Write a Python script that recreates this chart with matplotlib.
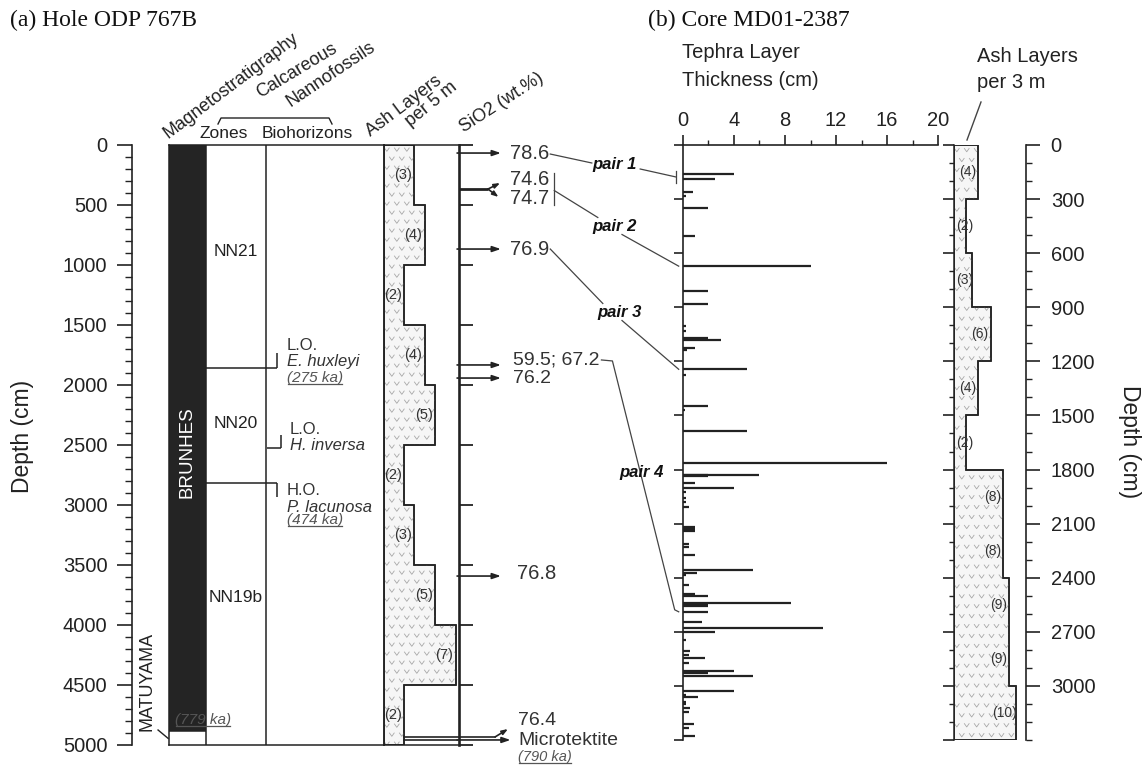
import numpy as np
import matplotlib
matplotlib.use('Agg')
import matplotlib.pyplot as plt
from matplotlib.path import Path
from matplotlib.patches import Polygon
from matplotlib.ticker import MultipleLocator

plt.rcParams['font.family'] = ['Liberation Sans', 'DejaVu Sans']

W, H, DPI = 1145, 766, 100
INK = '#222222'
GREY = '#555555'

# ---------------- data: (a) Hole ODP 767B ----------------
odp_ash_edges = [0, 500, 1000, 1500, 2000, 2500, 3000, 3500, 4000, 4500, 5000]
odp_ash_counts = [3, 4, 2, 4, 5, 2, 3, 5, 7, 2]
brunhes_base_depth = 4885
brunhes_base_age = '(779 ka)'
zone_names = ['NN21', 'NN20', 'NN19b']
zone_label_depths = [890, 2320, 3770]
bio_depths = [1858, 2525, 2817]
bio_events = ['L.O.', 'L.O.', 'H.O.']
bio_species = ['E. huxleyi', 'H. inversa', 'P. lacunosa']
bio_ages = ['(275 ka)', '', '(474 ka)']
sio2_depths = [67, 367, 367, 867, 1833, 1942, 3592, 4933]
sio2_values = ['78.6', '74.6', '74.7', '76.9', '59.5; 67.2', '76.2', '76.8', '76.4']
microtektite_depth = 4958
microtektite_age = '(790 ka)'

# ---------------- data: (b) Core MD01-2387 ----------------
tephra_depths = [163, 191, 259, 281, 352, 506, 672, 809, 880, 1004, 1033, 1069, 1083,
                 1124, 1135, 1244, 1274, 1450, 1469, 1587, 1763, 1828, 1833, 1838, 1876,
                 1900, 1926, 1957, 1978, 2006, 2117, 2128, 2139, 2213, 2231, 2274, 2357,
                 2374, 2383, 2439, 2491, 2504, 2541, 2550, 2559, 2589, 2644, 2680, 2700,
                 2744, 2809, 2828, 2846, 2874, 2920, 2926, 2946, 3028, 3050, 3061, 3087,
                 3102, 3120, 3144, 3213, 3231, 3278]
tephra_thickness = [4.0, 2.5, 0.8, 0.25, 2.0, 1.0, 10.0, 2.0, 2.0, 0.25, 0.25, 2.0, 3.0,
                    1.0, 0.3, 5.0, 0.25, 2.0, 0.2, 5.0, 16.0, 6.0, 2.0, 2.0, 1.0,
                    4.0, 0.25, 0.25, 0.25, 0.5, 1.0, 1.0, 1.0, 0.5, 0.5, 1.0, 5.5,
                    1.15, 0.25, 0.5, 1.0, 2.0, 8.5, 2.0, 2.0, 2.0, 1.5, 11.0, 2.5,
                    0.25, 0.6, 0.5, 1.75, 0.5, 4.0, 2.0, 5.5, 4.0, 0.25, 1.2, 0.25,
                    0.25, 0.6, 0.5, 0.9, 0.5, 1.0]
md_ash_edges = [0, 300, 600, 900, 1200, 1500, 1800, 2100, 2400, 2700, 3000, 3300]
md_ash_counts = [4, 2, 3, 6, 4, 2, 8, 8, 9, 9, 10]
pair_names = ['pair 1', 'pair 2', 'pair 3', 'pair 4']
pair_tephra_depths = [177, 672, 1244, 2589]

# ---------------- figure ----------------
fig = plt.figure(figsize=(W / DPI, H / DPI), dpi=DPI)


def add_ax(x0, x1, y0, y1, **kw):
    return fig.add_axes([x0 / W, 1 - y1 / H, (x1 - x0) / W, (y1 - y0) / H], **kw)


TOP, BOT_A, BOT_B = 145, 745, 740
LW = 1.1

V_PATH = Path([(-1, 0.7), (0, -0.7), (1, 0.7)], [Path.MOVETO, Path.LINETO, Path.LINETO])


def step_poly(edges, counts):
    verts = [(0, edges[0])]
    for i, c in enumerate(counts):
        verts.append((c, edges[i]))
        verts.append((c, edges[i + 1]))
    verts.append((0, edges[-1]))
    return verts


def ash_fill(ax, edges, counts, dx, dy):
    poly = Polygon(step_poly(edges, counts), closed=True, facecolor='#f6f6f6',
                   edgecolor=INK, lw=LW, zorder=2)
    ax.add_patch(poly)
    xs, ys = [], []
    for j, y in enumerate(np.arange(dy / 2, edges[-1], dy)):
        off = dx / 2 if j % 2 else 0
        for x in np.arange(dx / 3 + off, max(counts) + dx, dx):
            xs.append(x)
            ys.append(y)
    sc = ax.scatter(xs, ys, marker=V_PATH, s=14, facecolors='none',
                    edgecolors='#a8a8a8', linewidths=0.6, zorder=2.5)
    sc.set_clip_path(poly)
    outline = Polygon(step_poly(edges, counts), closed=True, fill=False,
                      edgecolor=INK, lw=LW, zorder=3)
    ax.add_patch(outline)


# ---- depth axis (a) ----
ax_dep = add_ax(131.7, 169, TOP, BOT_A)
ax_dep.set_ylim(5000, 0)
ax_dep.patch.set_visible(False)
for s in ['top', 'right', 'bottom']:
    ax_dep.spines[s].set_visible(False)
ax_dep.spines['left'].set_linewidth(1.2)
ax_dep.spines['left'].set_color(INK)
ax_dep.set_xticks([])
ax_dep.yaxis.set_major_locator(MultipleLocator(500))
ax_dep.yaxis.set_minor_locator(MultipleLocator(100))
ax_dep.tick_params(axis='y', which='major', length=10.5, width=1.2, labelsize=14.5,
                   pad=7, color=INK, labelcolor=INK)
ax_dep.tick_params(axis='y', which='minor', length=4.8, width=1.0, color=INK)

# ---- columns (a) ----
ax_col = add_ax(169, 383.5, TOP, BOT_A)
ax_col.set_xlim(0, 1)
ax_col.set_ylim(5000, 0)
ax_col.set_xticks([])
ax_col.set_yticks([])
for s in ax_col.spines.values():
    s.set_linewidth(LW)
    s.set_color(INK)
MAG_R, ZONE_R = 0.172, 0.4535
ax_col.fill_betweenx([0, brunhes_base_depth], 0, MAG_R, color='#242424', lw=0)
ax_col.hlines(brunhes_base_depth, 0, MAG_R, color=INK, lw=LW)
ax_col.axvline(MAG_R, color=INK, lw=LW)
ax_col.axvline(ZONE_R, color=INK, lw=LW)
ax_col.text(MAG_R / 2, 2560, 'BRUNHES', rotation=90, color='white', ha='center',
            va='center', fontsize=13.5)
ax_col.text(-0.102, 4470, 'MATUYAMA', rotation=90, color=INK, ha='center',
            va='center', fontsize=13, clip_on=False)
ax_col.plot([-0.051, -0.004], [4875, 4945], color=INK, lw=1.0, clip_on=False)
t_779 = ax_col.text(0.028, 4792, brunhes_base_age, color=GREY, ha='left', va='center',
                    fontsize=11, style='italic')

for name, d in zip(zone_names, zone_label_depths):
    ax_col.text((MAG_R + ZONE_R) / 2, d, name, ha='center', va='center', fontsize=12.5,
                color=INK)

# biohorizon markers
bio_marker = [(MAG_R, 0.502, -125), (0.456, 0.521, -108), (MAG_R, 0.502, 116)]
bio_text_x = [0.549, 0.563, 0.549]
bio_text_off = [(-191, -50, 84), (-158, -25, None), (66, 200, 308)]
underlined = [t_779]
for d, ev, sp, age, (xa, xb, v), tx, offs in zip(bio_depths, bio_events, bio_species,
                                                  bio_ages, bio_marker, bio_text_x,
                                                  bio_text_off):
    ax_col.hlines(d, xa, xb, color=INK, lw=LW)
    ax_col.vlines(xb, d, d + v, color=INK, lw=LW)
    ax_col.text(tx, d + offs[0], ev, ha='left', va='center', fontsize=12, color='#333')
    ax_col.text(tx, d + offs[1], sp, ha='left', va='center', fontsize=12, color='#333',
                style='italic')
    if age:
        underlined.append(ax_col.text(tx, d + offs[2], age, ha='left', va='center',
                                      fontsize=11, color=GREY, style='italic'))

# ---- ash layers per 5 m (a) ----
ax_ash = add_ax(383.5, 459, TOP, BOT_A)
ax_ash.set_xlim(0, 75.5 / 10.3)
ax_ash.set_ylim(5000, 0)
ax_ash.set_xticks([])
ax_ash.set_yticks([])
ax_ash.spines['right'].set_visible(False)
for s in ax_ash.spines.values():
    s.set_linewidth(LW)
    s.set_color(INK)
ash_fill(ax_ash, odp_ash_edges, odp_ash_counts, 0.97, 75)
for i, c in enumerate(odp_ash_counts):
    ax_ash.text(c - 1.1, (odp_ash_edges[i] + odp_ash_edges[i + 1]) / 2, f'({c})',
                ha='center', va='center', fontsize=10.5, color='#333', zorder=4)

# ---- SiO2 column (a) ----
ax_si = add_ax(459, 620, TOP, BOT_A, zorder=3)
ax_si.set_xlim(0, 1)
ax_si.set_ylim(5000, 0)
ax_si.patch.set_visible(False)
for s in ['top', 'right', 'bottom']:
    ax_si.spines[s].set_visible(False)
ax_si.spines['left'].set_linewidth(1.9)
ax_si.spines['left'].set_color(INK)
ax_si.set_xticks([])
ax_si.yaxis.set_major_locator(MultipleLocator(500))
ax_si.tick_params(axis='y', which='major', direction='in', length=10, width=1.3,
                  labelleft=False, color=INK)

AP = dict(arrowstyle='-|>,head_length=0.5,head_width=0.17', lw=1.2, color=INK,
          shrinkA=0, shrinkB=0)
AP_SMALL = dict(arrowstyle='-|>,head_length=0.35,head_width=0.13', lw=1.2, color=INK,
                shrinkA=0, shrinkB=0)


def arrow(x0, y0, x1, y1, props=AP):
    ax_si.annotate('', xy=(x1, y1), xytext=(x0, y0), arrowprops=props,
                   annotation_clip=False)


PX_SI = 5000 / 600.0  # cm per pixel in (a)
si_text = {}
label_x = [0.317, 0.317, 0.317, 0.317, 0.335, 0.335, 0.36, 0.366]
label_dy = [0, -10, 9, 0, -5, 0, -3, -16]
label_fs = [14.5, 14.5, 14.5, 14.5, 14, 14, 14.5, 14]
for i, (d, v) in enumerate(zip(sio2_depths, sio2_values)):
    if i == 1:
        ax_si.plot([-0.012, 0.18], [d, d], color=INK, lw=2.0, solid_capstyle='butt')
        arrow(0.18, d, 0.255, d - 50, AP_SMALL)
    elif i == 2:
        arrow(0.18, d, 0.245, d + 66, AP_SMALL)
    elif i == 7:
        ax_si.plot([-0.34, 0.224], [d, d], color=INK, lw=1.2, clip_on=False)
        arrow(0.224, d, 0.304, d - 66, AP_SMALL)
    else:
        arrow(-0.012, d, 0.26, d)
    si_text[i] = ax_si.text(label_x[i], d + label_dy[i] * PX_SI, v, ha='left',
                            va='center', fontsize=label_fs[i], color='#333',
                            clip_on=False)
ax_si.plot([-0.34, -0.012], [microtektite_depth] * 2, color=INK, lw=1.2, clip_on=False)
arrow(-0.012, microtektite_depth, 0.32, microtektite_depth)
ax_si.text(0.366, microtektite_depth + 1 * PX_SI, 'Microtektite', ha='left',
           va='center', fontsize=14, color='#333', clip_on=False)
underlined.append(ax_si.text(0.366, microtektite_depth + 17 * PX_SI, microtektite_age,
                             ha='left', va='center', fontsize=10.5, color=GREY,
                             style='italic', clip_on=False))

# ---- (b) tephra layer thickness ----
ax_t = add_ax(682.7, 938.3, TOP, BOT_B)
ax_t.set_xlim(0, 20)
ax_t.set_ylim(3300, 0)
ax_t.patch.set_visible(False)
for s in ['right', 'bottom']:
    ax_t.spines[s].set_visible(False)
for s in ['top', 'left']:
    ax_t.spines[s].set_linewidth(1.2)
    ax_t.spines[s].set_color(INK)
ax_t.xaxis.set_major_locator(MultipleLocator(4))
ax_t.xaxis.set_minor_locator(MultipleLocator(2))
ax_t.tick_params(axis='x', which='both', top=True, bottom=False, labeltop=True,
                 labelbottom=False, color=INK)
ax_t.tick_params(axis='x', which='major', length=7, width=1.2, labelsize=14.5, pad=4,
                 labelcolor=INK)
ax_t.tick_params(axis='x', which='minor', length=3.6, width=1.0)
ax_t.yaxis.set_major_locator(MultipleLocator(300))
ax_t.tick_params(axis='y', which='major', length=6.7, width=1.2, labelleft=False,
                 color=INK)
ax_t.hlines(tephra_depths, 0, tephra_thickness, color=INK, lw=1.6)

# ---- (b) ash layers per 3 m ----
ax_a2 = add_ax(953.5, 953.5 + 6.2 * 11, TOP, BOT_B)
ax_a2.set_xlim(0, 11)
ax_a2.set_ylim(3300, 0)
ax_a2.patch.set_visible(False)
for s in ['top', 'right', 'bottom']:
    ax_a2.spines[s].set_visible(False)
ax_a2.spines['left'].set_linewidth(LW)
ax_a2.spines['left'].set_color(INK)
ax_a2.set_xticks([])
ax_a2.yaxis.set_major_locator(MultipleLocator(300))
ax_a2.yaxis.set_minor_locator(MultipleLocator(100))
ax_a2.tick_params(axis='y', which='major', length=8, width=1.2, labelleft=False,
                  color=INK)
ax_a2.tick_params(axis='y', which='minor', length=3.6, width=1.0, color=INK)
ash_fill(ax_a2, md_ash_edges, md_ash_counts, 1.6, 55)
for i, c in enumerate(md_ash_counts):
    ax_a2.text(max(c - 1.7, 1.8), (md_ash_edges[i] + md_ash_edges[i + 1]) / 2, f'({c})',
               ha='center', va='center', fontsize=10, color='#333', zorder=4)

# ---- (b) depth axis ----
ax_d2 = add_ax(1020, 1026, TOP, BOT_B)
ax_d2.set_ylim(3300, 0)
ax_d2.patch.set_visible(False)
for s in ['top', 'left', 'bottom']:
    ax_d2.spines[s].set_visible(False)
ax_d2.spines['right'].set_linewidth(1.2)
ax_d2.spines['right'].set_color(INK)
ax_d2.set_xticks([])
ax_d2.yaxis.set_major_locator(MultipleLocator(300))
ax_d2.yaxis.set_minor_locator(MultipleLocator(100))
ax_d2.yaxis.tick_right()
ax_d2.tick_params(axis='y', which='major', length=9.8, width=1.2, labelsize=14.5,
                  pad=8, color=INK, labelcolor=INK, left=False, right=True,
                  labelleft=False, labelright=True)
ax_d2.tick_params(axis='y', which='minor', length=4.3, width=1.0, color=INK,
                  left=False, right=True)
ax_d2.set_yticks(range(0, 3001, 300))

# ---------------- overlay (figure pixels) ----------------
ov = fig.add_axes([0, 0, 1, 1], zorder=10)
ov.set_xlim(0, W)
ov.set_ylim(H, 0)
ov.axis('off')
ov.patch.set_visible(False)

ov.text(10, 20, '(a) Hole ODP 767B', family='Liberation Serif', fontsize=17,
        ha='left', va='center', color='#111')
ov.text(648, 20, '(b) Core MD01-2387', family='Liberation Serif', fontsize=17,
        ha='left', va='center', color='#111')
ov.text(22, 436, 'Depth (cm)', rotation=90, ha='center', va='center', fontsize=16.5,
        color=INK)
ov.text(1130, 442, 'Depth (cm)', rotation=270, ha='center', va='center', fontsize=16.5,
        color=INK)

headers = [('Magnetostratigraphy', 168, 139, 37), ('Calcareous', 260, 98, 31),
           ('Nannofossils', 290, 107, 34), ('Ash Layers', 371, 137, 37),
           ('per 5 m', 410, 127, 39), ('SiO2 (wt.%)', 464, 133, 33)]
for txt, x, y, rot in headers:
    ov.text(x, y, txt, rotation=rot, rotation_mode='anchor', ha='left', va='baseline',
            fontsize=13, color=INK)
ov.text(200, 133, 'Zones', ha='left', va='center', fontsize=12.5, color=INK)
ov.text(262, 133, 'Biohorizons', ha='left', va='center', fontsize=12.5, color=INK)
ov.plot([218, 221, 329, 332], [124, 118, 118, 124], color=INK, lw=1.0)

ov.text(682, 52, 'Tephra Layer', ha='left', va='center', fontsize=14.5, color=INK)
ov.text(682, 80, 'Thickness (cm)', ha='left', va='center', fontsize=14.5, color=INK)
ov.text(977, 57, 'Ash Layers', ha='left', va='center', fontsize=14.5, color=INK)
ov.text(977, 83, 'per 3 m', ha='left', va='center', fontsize=14.5, color=INK)
ov.plot([981, 967], [102, 140], color='#444', lw=1.0)

pair_pos = [(615, 165), (615, 226), (620, 312), (642, 473)]
pair_txt = [ov.text(x, y, n, ha='center', va='center', fontsize=12, weight='bold',
                    style='italic', color='#111', zorder=5)
            for n, (x, y) in zip(pair_names, pair_pos)]

fig.canvas.draw()
rend = fig.canvas.get_renderer()


def bbox(t):
    b = t.get_window_extent(rend)
    return b.x0, H - b.y1, b.x1, H - b.y0


def to_ov(ax, x, y):
    px, py = ax.transData.transform((x, y))
    return px, H - py


for t in underlined:
    x0, y0, x1, y1 = bbox(t)
    ov.plot([x0 + 1, x1 - 1], [y1 - 1, y1 - 1], color=GREY, lw=0.9)

CL = dict(color='#444', lw=0.9)
x_ax = to_ov(ax_t, 0, 0)[0]

# pair 1
l0 = bbox(si_text[0]); p = bbox(pair_txt[0])
yc = (l0[1] + l0[3]) / 2
pc = (p[1] + p[3]) / 2
ov.plot([l0[2] + 1, p[0] - 1], [yc + 1, pc - 2], **CL)
_, ye = to_ov(ax_t, 0, pair_tephra_depths[0])
ov.plot([p[2] + 3, x_ax - 7], [pc + 4, ye], **CL)
_, yb0 = to_ov(ax_t, 0, 144)
_, yb1 = to_ov(ax_t, 0, 211)
ov.plot([x_ax - 7, x_ax - 7], [yb0, yb1], **CL)

# pair 2
la = bbox(si_text[1]); lb = bbox(si_text[2]); p = bbox(pair_txt[1])
bx = max(la[2], lb[2]) + 5
ov.plot([bx, bx], [la[1] + 3, lb[3] - 3], **CL)
ov.plot([bx, p[0] + 5], [(la[1] + lb[3]) / 2 + 2, p[1] - 1], **CL)
_, ye = to_ov(ax_t, 0, pair_tephra_depths[1])
ov.plot([(p[0] + p[2]) / 2 + 7, x_ax - 4], [p[3] + 1, ye], **CL)

# pair 3
l3 = bbox(si_text[3]); p = bbox(pair_txt[2])
ov.plot([l3[2] + 1, p[0] + 5], [(l3[1] + l3[3]) / 2, p[1] - 1], **CL)
_, ye = to_ov(ax_t, 0, pair_tephra_depths[2])
ov.plot([(p[0] + p[2]) / 2 + 2, x_ax - 4], [p[3] + 1, ye], **CL)

# pair 4
l4 = bbox(si_text[4])
yc = (l4[1] + l4[3]) / 2
_, ye = to_ov(ax_t, 0, pair_tephra_depths[3])
ov.plot([l4[2] + 2, l4[2] + 13, x_ax - 8, x_ax - 4], [yc, yc + 1, ye - 2, ye], **CL)

fig.savefig('out.png', dpi=DPI)
